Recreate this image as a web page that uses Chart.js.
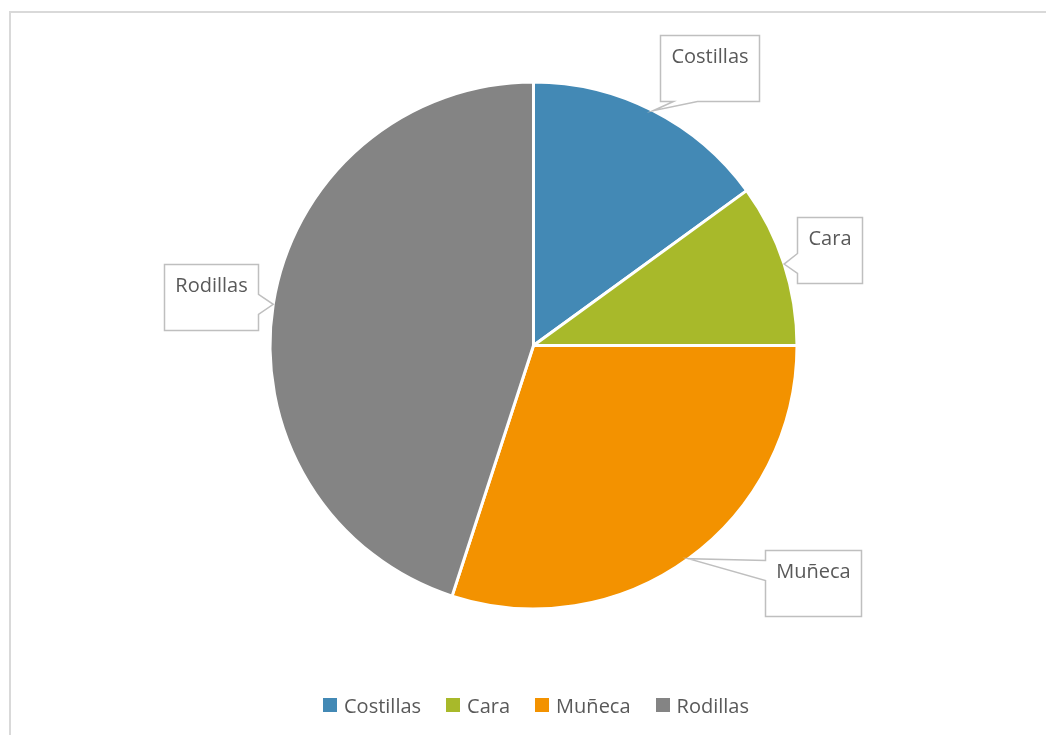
<!DOCTYPE html>
<html lang="es">
<head>
  <meta charset="UTF-8">
  <title>Lesiones</title>
  <script src="https://cdn.jsdelivr.net/npm/chart.js@4.4.1/dist/chart.umd.min.js"></script>
  <style>
    html, body {
      margin: 0;
      padding: 0;
      background: #fff;
      overflow: hidden;
    }

    body {
      width: 1046px;
      height: 735px;
      position: relative;
      font-family: 'Open Sans', sans-serif;
    }

    .frame {
      position: absolute;
      left: 9px;
      top: 11px;
      width: 1100px;
      height: 800px;
      border-top: 2px solid #d9d9d9;
      border-left: 2px solid #d9d9d9;
    }

    #chart {
      position: absolute;
      left: 0;
      top: 0;
    }

    .legend {
      position: absolute;
      left: 0;
      top: 695px;
      width: 1072px;
      height: 20px;
      display: flex;
      justify-content: center;
      align-items: center;
      font-size: 20px;
      color: #595959;
    }

    .legend span.box {
      display: inline-block;
      width: 14px;
      height: 14px;
      margin-right: 7px;
    }

    .legend .item {
      display: flex;
      align-items: center;
      margin-right: 25px;
      line-height: 20px;
    }

    .legend .item span:last-child {
      position: relative;
      top: 1px;
    }

    .legend .item:last-child {
      margin-right: 0;
    }
  </style>
</head>

<body>
  <div class="frame"></div>
  <canvas id="chart" width="1046" height="735"></canvas>
  <div class="legend" id="legend"></div>

  <script>
    const labels = ['Costillas', 'Cara', 'Muñeca', 'Rodillas'];
    const values = [15, 10, 30, 45];
    const colors = ['#4389B5', '#A8B92A', '#F39200', '#848484'];

    // where each callout box sits, relative to the tip on the slice edge
    const calloutOffsets = [[56, -43], [45, -14], [125, 24], [-62, -7]];

    const calloutPlugin = {
      id: 'callouts',
      afterDatasetsDraw(chart, args, opts) {
        const c = chart.ctx;
        const meta = chart.getDatasetMeta(0);
        c.save();
        c.font = opts.font;
        meta.data.forEach((arc, i) => {
          const p = arc.getProps(['x', 'y', 'startAngle', 'endAngle', 'outerRadius'], true);
          const mid = (p.startAngle + p.endAngle) / 2;
          const tx = p.x + Math.cos(mid) * p.outerRadius;
          const ty = p.y + Math.sin(mid) * p.outerRadius;
          const text = chart.data.labels[i];
          const w = Math.round(c.measureText(text).width) + 22;
          const h = 66;
          const cx = tx + opts.offsets[i][0];
          const cy = ty + opts.offsets[i][1];
          const l = Math.round(cx - w / 2) + 0.5, r = l + w;
          const t = Math.round(cy - h / 2) + 0.5, b = t + h;
          const half = 10;
          const clamp = (v, a, z) => Math.max(a, Math.min(z, v));

          c.beginPath();
          c.moveTo(l, t);
          c.lineTo(r, t);
          if (ty >= t && ty <= b && tx > r) {
            const m = clamp(ty, t + 20, b - 20);
            c.lineTo(r, m - half);
            c.lineTo(tx, ty);
            c.lineTo(r, m + half);
          }
          c.lineTo(r, b);
          if (ty > b) {
            const m = clamp(tx, l + 25, r - 25);
            c.lineTo(m + half + 2, b);
            c.lineTo(tx, ty);
            c.lineTo(m - half - 2, b);
          }
          c.lineTo(l, b);
          if (ty >= t && ty <= b && tx < l) {
            const m = clamp(ty, t + 20, b - 20);
            c.lineTo(l, m + half);
            c.lineTo(tx, ty);
            c.lineTo(l, m - half);
          }
          c.closePath();
          c.fillStyle = '#fff';
          c.fill();
          c.lineWidth = 1.5;
          c.strokeStyle = '#bfbfbf';
          c.stroke();

          c.fillStyle = '#595959';
          c.textAlign = 'center';
          c.textBaseline = 'middle';
          c.fillText(text, (l + r) / 2, t + 22);
        });
        c.restore();
      }
    };

    const ctx = document.getElementById('chart');

    new Chart(ctx, {
      type: 'pie',
      data: {
        labels: labels,
        datasets: [{
          data: values,
          backgroundColor: colors,
          borderColor: '#ffffff',
          borderWidth: 3,
        }]
      },
      options: {
        responsive: false,
        animation: false,
        events: [],
        devicePixelRatio: 1,
        layout: {
          padding: { left: 268.5, right: 247.5, top: 80.5, bottom: 124.5 }
        },
        plugins: {
          legend: { display: false },
          tooltip: { enabled: false },
          callouts: {
            font: '20px "Open Sans"',
            offsets: calloutOffsets
          }
        }
      },
      plugins: [calloutPlugin]
    });

    // html legend built from the same arrays
    const legendEl = document.getElementById('legend');
    labels.forEach((lab, i) => {
      const item = document.createElement('div');
      item.className = 'item';
      const box = document.createElement('span');
      box.className = 'box';
      box.style.background = colors[i];
      const txt = document.createElement('span');
      txt.textContent = lab;
      item.appendChild(box);
      item.appendChild(txt);
      legendEl.appendChild(item);
    });
  </script>
</body>

</html>
